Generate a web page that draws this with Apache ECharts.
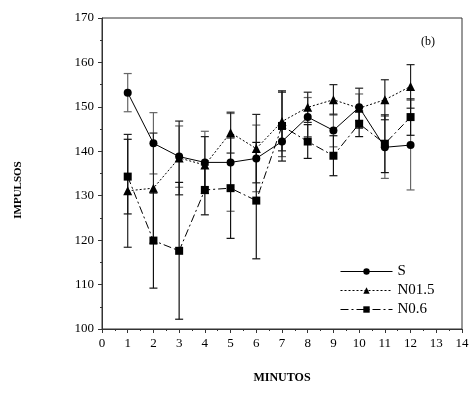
<!DOCTYPE html>
<html>
<head>
<meta charset="utf-8">
<script src="https://cdn.jsdelivr.net/npm/echarts@6/dist/echarts.min.js"></script>
<style>
  html, body { margin: 0; padding: 0; background: #fff; }
  #chart { width: 472px; height: 393px; }
</style>
</head>
<body>
<div id="chart"></div>
<script>
// minutos
const minutes = [1, 2, 3, 4, 5, 6, 7, 8, 9, 10, 11, 12]

// S
const sMean = [153.2, 141.8, 138.8, 137.5, 137.5, 138.4, 142.2, 147.7, 144.7, 149.9, 140.9, 141.4]
const sErr = [4.3, 6.9, 6.9, 7.0, 11.0, 7.5, 3.4, 4.4, 3.7, 3.0, 7.0, 10.1]
// N01.5
const n15Mean = [131.1, 131.7, 138.5, 136.9, 144.2, 140.6, 146.7, 149.9, 151.6, 149.7, 151.6, 154.6]
const n15Err = [12.7, 12.4, 8.3, 6.4, 4.6, 7.7, 6.6, 3.4, 3.4, 4.5, 4.5, 4.9]
// N0.6
const n06Mean = [134.3, 119.9, 117.6, 131.3, 131.7, 128.9, 145.7, 142.2, 139.0, 146.2, 141.7, 147.7]
const n06Err = [8.4, 10.7, 15.4, 5.6, 11.3, 13.1, 7.9, 3.8, 4.5, 2.9, 6.5, 4.1]

const FONT = 'Liberation Serif'

const toPoints = (mean) => minutes.map((m, i) => [m, mean[i]])
const toBars = (mean, err) => minutes.map((m, i) => [m, mean[i] - err[i], mean[i] + err[i]])

// barra de error vertical con remates
function errorSeries (name, mean, err, color) {
  return {
    name: name + '-err',
    type: 'custom',
    z: 1,
    silent: true,
    renderItem (params, api) {
      const x = api.value(0)
      const lo = api.coord([x, api.value(1)])
      const hi = api.coord([x, api.value(2)])
      const cap = 4
      const style = { stroke: color, lineWidth: 1.2 }
      return {
        type: 'group',
        children: [
          { type: 'line', shape: { x1: lo[0], y1: lo[1], x2: hi[0], y2: hi[1] }, style },
          { type: 'line', shape: { x1: lo[0] - cap, y1: lo[1], x2: lo[0] + cap, y2: lo[1] }, style },
          { type: 'line', shape: { x1: hi[0] - cap, y1: hi[1], x2: hi[0] + cap, y2: hi[1] }, style }
        ]
      }
    },
    encode: { x: 0, y: [1, 2] },
    data: toBars(mean, err)
  }
}

function lineSeries (name, mean, symbol, size, dash) {
  return {
    name,
    type: 'line',
    z: 3,
    data: toPoints(mean),
    symbol,
    symbolSize: size,
    showSymbol: true,
    itemStyle: { color: '#000' },
    lineStyle: { color: '#000', width: 1, type: dash },
    emphasis: { disabled: true }
  }
}

const chart = echarts.init(document.getElementById('chart'))

const axisCommon = {
  axisLine: { show: true, onZero: false, lineStyle: { color: '#333', width: 1 } },
  axisTick: { show: true, inside: false, length: 4, lineStyle: { color: '#333' } },
  minorTick: { show: true, splitNumber: 2, length: 2, lineStyle: { color: '#333' } },
  splitLine: { show: false },
  axisLabel: { color: '#000', fontFamily: FONT, fontSize: 13 }
}

chart.setOption({
  animation: false,
  backgroundColor: '#fff',
  grid: {
    left: 102,
    right: 10,
    top: 18,
    bottom: 64,
    show: true,
    borderColor: '#333',
    borderWidth: 1
  },
  xAxis: Object.assign({}, axisCommon, {
    type: 'value',
    min: 0,
    max: 14,
    interval: 1,
    axisLabel: Object.assign({}, axisCommon.axisLabel, { margin: 8 })
  }),
  yAxis: Object.assign({}, axisCommon, {
    type: 'value',
    min: 100,
    max: 170,
    interval: 10,
    axisLabel: Object.assign({}, axisCommon.axisLabel, { margin: 8 })
  }),
  legend: {
    left: 335,
    top: 259,
    orient: 'vertical',
    itemWidth: 52,
    itemHeight: 8,
    itemGap: 4,
    lineStyle: { width: 1 },
    textStyle: { fontFamily: FONT, fontSize: 15, color: '#000' },
    data: ['S', 'N01.5', 'N0.6']
  },
  graphic: [
    {
      type: 'text',
      left: 421,
      top: 36,
      style: { text: '(b)', font: '12px ' + FONT, fill: '#000' }
    },
    {
      type: 'text',
      x: 18,
      y: 190,
      rotation: Math.PI / 2,
      style: {
        text: 'IMPULSOS',
        font: 'bold 11px ' + FONT,
        fill: '#000',
        align: 'center',
        verticalAlign: 'middle'
      }
    },
    {
      type: 'text',
      x: 282,
      y: 378,
      style: {
        text: 'MINUTOS',
        font: 'bold 12px ' + FONT,
        fill: '#000',
        align: 'center',
        verticalAlign: 'middle'
      }
    }
  ],
  series: [
    errorSeries('S', sMean, sErr, '#666'),
    errorSeries('N01.5', n15Mean, n15Err, '#222'),
    errorSeries('N0.6', n06Mean, n06Err, '#111'),
    lineSeries('S', sMean, 'circle', 8, 'solid'),
    lineSeries('N01.5', n15Mean, 'triangle', 9, [2, 2]),
    lineSeries('N0.6', n06Mean, 'rect', 8, [8, 3, 2, 3])
  ]
})
</script>
</body>
</html>
